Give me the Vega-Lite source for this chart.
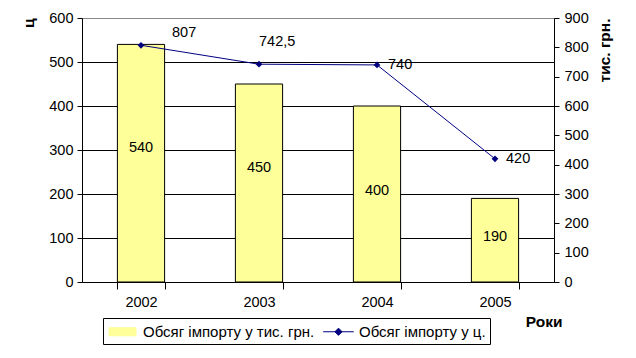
{
  "$schema": "https://vega.github.io/schema/vega-lite/v6.json",
  "width": 472,
  "height": 264,
  "autosize": {"type": "none"},
  "padding": {"left": 82, "top": 18, "right": 82, "bottom": 76},
  "background": "white",
  "config": {
    "font": "Liberation Sans",
    "view": {"stroke": "#888888", "strokeWidth": 1},
    "locale": {"number": {"decimal": ",", "thousands": " ", "grouping": [3], "currency": ["", ""]}},
    "axis": {"labelFont": "Liberation Sans", "labelFontSize": 14.5, "labelColor": "black", "domainColor": "black", "tickColor": "black", "titleColor": "black", "titleFont": "Liberation Sans", "titleFontSize": 15.5, "titleFontWeight": "bold", "labelOverlap": false},
    "legend": {
      "orient": "none", "legendX": 21, "legendY": 300, "direction": "horizontal",
      "strokeColor": "black", "padding": 4, "labelFontSize": 15, "labelFont": "Liberation Sans", "labelColor": "black", "labelLimit": 400,
      "symbolSize": 324, "symbolOffset": 6, "labelOffset": 11, "columnPadding": 6, "symbolStrokeWidth": 1, "symbolOpacity": 1
    }
  },
  "data": {
    "values": [
      {"year": "2002", "cnt": 540, "uah": 807},
      {"year": "2003", "cnt": 450, "uah": 742.5},
      {"year": "2004", "cnt": 400, "uah": 740},
      {"year": "2005", "cnt": 190, "uah": 420}
    ]
  },
  "encoding": {
    "x": {
      "field": "year", "type": "ordinal",
      "scale": {"paddingInner": 0.6, "paddingOuter": 0.3},
      "axis": {"title": "Роки", "labelAngle": 0, "tickBand": "extent", "tickSize": 7, "labelPadding": 6, "titleAnchor": "end", "titleAlign": "right", "titleX": 480, "titlePadding": 6, "domainColor": "black"}
    }
  },
  "layer": [
    {
      "layer": [
        {
          "mark": {"type": "bar", "stroke": "black", "strokeWidth": 1},
          "encoding": {
            "y": {
              "field": "cnt", "type": "quantitative",
              "scale": {"domain": [0, 600], "nice": false},
              "axis": {"title": "ц", "values": [0, 100, 200, 300, 400, 500, 600], "grid": true, "gridColor": {"condition": {"test": "datum.value == 600", "value": "#888888"}, "value": "black"}, "gridOpacity": 1, "tickSize": 5, "labelPadding": 4, "titleAnchor": "end", "titleAngle": -90, "titlePadding": 12}
            },
            "color": {
              "datum": "Обсяг імпорту у тис. грн.", "type": "nominal",
              "scale": {"domain": ["Обсяг імпорту у тис. грн.", "Обсяг імпорту у ц."], "range": ["#FFFF99", "#000080"]},
              "legend": {
                "title": null, "labelFontSize": 15,
                "encode": {
                  "symbols": {
                    "update": {
                      "shape": {"signal": "datum.value == 'Обсяг імпорту у тис. грн.' ? 'M-1.5,-0.45L1.5,-0.45L1.5,0.45L-1.5,0.45Z' : 'M-1.7,0L1.7,0M0,-0.4L0.4,0L0,0.4L-0.4,0Z'"},
                      "fill": {"signal": "datum.value == 'Обсяг імпорту у тис. грн.' ? '#FFFF99' : '#000080'"},
                      "stroke": {"signal": "datum.value == 'Обсяг імпорту у тис. грн.' ? 'black' : '#000080'"},
                      "strokeWidth": {"value": 1},
                      "opacity": {"value": 1},
                      "fillOpacity": {"value": 1}
                    }
                  }
                }
              }
            }
          }
        },
        {
          "transform": [{"filter": "datum.cnt > 420"}, {"calculate": "datum.cnt / 2", "as": "mid"}],
          "mark": {"type": "text", "fontSize": 14.5, "font": "Liberation Sans", "color": "black", "dy": -15},
          "encoding": {
            "y": {"field": "mid", "type": "quantitative"},
            "text": {"field": "cnt", "type": "quantitative"}
          }
        },
        {
          "transform": [{"filter": "datum.cnt <= 420"}, {"calculate": "datum.cnt / 2", "as": "mid"}],
          "mark": {"type": "text", "fontSize": 14.5, "font": "Liberation Sans", "color": "black", "dy": -3},
          "encoding": {
            "y": {"field": "mid", "type": "quantitative"},
            "text": {"field": "cnt", "type": "quantitative"}
          }
        }
      ]
    },
    {
      "encoding": {
        "y": {
          "field": "uah", "type": "quantitative",
          "scale": {"domain": [0, 900], "nice": false},
          "axis": {"orient": "right", "title": "тис. грн.", "values": [0, 100, 200, 300, 400, 500, 600, 700, 800, 900], "tickCount": 10, "labelOverlap": false, "grid": false, "tickSize": 5, "labelPadding": 5, "titleAnchor": "end", "titleAngle": -90, "titlePadding": 24}
        }
      },
      "layer": [
        {
          "mark": {"type": "line", "strokeWidth": 1, "point": {"shape": "diamond", "filled": true, "size": 45, "color": "#000080"}},
          "encoding": {
            "color": {
              "datum": "Обсяг імпорту у ц.", "type": "nominal",
              "legend": {
                "title": null, "labelFontSize": 15,
                "encode": {
                  "symbols": {
                    "update": {
                      "shape": {"signal": "datum.value == 'Обсяг імпорту у тис. грн.' ? 'M-1.5,-0.45L1.5,-0.45L1.5,0.45L-1.5,0.45Z' : 'M-1.7,0L1.7,0M0,-0.4L0.4,0L0,0.4L-0.4,0Z'"},
                      "fill": {"signal": "datum.value == 'Обсяг імпорту у тис. грн.' ? '#FFFF99' : '#000080'"},
                      "stroke": {"signal": "datum.value == 'Обсяг імпорту у тис. грн.' ? 'black' : '#000080'"},
                      "strokeWidth": {"value": 1},
                      "opacity": {"value": 1},
                      "fillOpacity": {"value": 1}
                    }
                  }
                }
              }
            }
          }
        },
        {
          "transform": [{"filter": "datum.year == '2002'"}],
          "mark": {"type": "text", "fontSize": 14.5, "font": "Liberation Sans", "color": "black", "align": "left", "dx": 31, "dy": -12},
          "encoding": {
            "text": {"field": "uah", "type": "quantitative", "format": "~g"}
          }
        },
        {
          "transform": [{"filter": "datum.year == '2003'"}],
          "mark": {"type": "text", "fontSize": 14.5, "font": "Liberation Sans", "color": "black", "align": "left", "dx": 0, "dy": -22},
          "encoding": {
            "text": {"field": "uah", "type": "quantitative", "format": "~g"}
          }
        },
        {
          "transform": [{"filter": "datum.year == '2004' || datum.year == '2005'"}],
          "mark": {"type": "text", "fontSize": 14.5, "font": "Liberation Sans", "color": "black", "align": "left", "dx": 11, "dy": 0},
          "encoding": {
            "text": {"field": "uah", "type": "quantitative", "format": "~g"}
          }
        }
      ]
    }
  ],
  "resolve": {"scale": {"y": "independent"}}
}
